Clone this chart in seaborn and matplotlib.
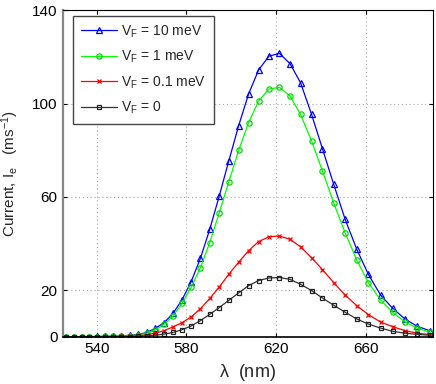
import matplotlib
matplotlib.use("Agg")
import matplotlib.pyplot as plt
import seaborn as sns
import pandas as pd

# wavelength samples (nm)
wavelength = [526.5, 529.9, 533.3, 536.8, 540.3, 543.9, 547.5, 551.1, 554.8, 558.6,
              562.4, 566.2, 570.1, 574.1, 578.1, 582.2, 586.3, 590.5, 594.7, 599.0,
              603.4, 607.8, 612.3, 616.9, 621.6, 626.3, 631.0, 635.9, 640.8, 645.8,
              650.9, 656.1, 661.3, 666.7, 672.1, 677.6, 683.2, 688.9]

vf_10meV = [0.0, 0.0, 0.05, 0.05, 0.1, 0.15, 0.2, 0.35, 0.6, 1.0,
            1.8, 3.6, 6.0, 10.0, 15.8, 23.6, 33.6, 46.1, 60.3, 75.5,
            90.6, 104.1, 114.5, 120.4, 121.6, 117.2, 109.0, 95.5, 80.6, 65.4,
            50.4, 37.5, 26.7, 17.9, 12.2, 7.6, 4.4, 2.5]

vf_1meV = [0.0, 0.0, 0.0, 0.05, 0.05, 0.1, 0.15, 0.25, 0.45, 0.8,
           1.5, 2.9, 5.3, 8.9, 14.3, 21.2, 29.6, 40.4, 53.1, 66.5,
           80.0, 91.8, 101.2, 106.3, 107.0, 103.3, 95.4, 84.1, 71.1, 57.4,
           44.6, 32.9, 23.2, 15.8, 10.5, 6.4, 3.6, 1.9]

vf_01meV = [0.0, 0.0, 0.0, 0.0, 0.0, 0.0, 0.05, 0.1, 0.2, 0.4,
            0.8, 1.5, 2.6, 4.2, 6.0, 8.5, 12.0, 16.4, 21.3, 26.8,
            32.0, 36.9, 40.8, 42.9, 43.2, 41.8, 38.6, 33.9, 28.8, 23.2,
            17.9, 13.3, 9.5, 6.3, 4.3, 2.6, 1.5, 0.9]

vf_0 = [0.0, 0.0, 0.0, 0.0, 0.0, 0.0, 0.0, 0.0, 0.05, 0.15,
        0.3, 0.6, 1.1, 1.8, 3.0, 4.6, 6.9, 9.6, 12.5, 15.6,
        18.8, 21.9, 24.1, 25.2, 25.4, 24.6, 22.5, 19.8, 16.6, 13.5,
        10.5, 7.6, 5.4, 3.7, 2.3, 1.5, 1.0, 0.6]

labels = [r'V$_\mathregular{F}$ = 10 meV', r'V$_\mathregular{F}$ = 1 meV',
          r'V$_\mathregular{F}$ = 0.1 meV', r'V$_\mathregular{F}$ = 0']
series = [vf_10meV, vf_1meV, vf_01meV, vf_0]

x_ticks = [540, 580, 620, 660]
y_ticks = [0, 20, 60, 100, 140]

sns.set_style("white")
plt.rcParams['font.family'] = ['Liberation Sans', 'DejaVu Sans']
plt.rcParams['mathtext.fontset'] = 'custom'
plt.rcParams['mathtext.rm'] = 'Liberation Sans'
plt.rcParams['mathtext.it'] = 'Liberation Sans:italic'

fig = plt.figure(figsize=(4.36, 3.84), dpi=100)
ax = fig.add_axes([0.1445, 0.1232, 0.848, 0.8495])

styles = [
    dict(color='#0000ff', marker='^', markersize=4.2, markerfacecolor='none', markeredgecolor='#0000ff'),
    dict(color='#00ff00', marker='o', markersize=3.8, markerfacecolor='none', markeredgecolor='#00dd00'),
    dict(color='#ff0000', marker='x', markersize=3.5, markeredgecolor='#ff0000'),
    dict(color='#333333', marker='s', markersize=3.2, markerfacecolor='none', markeredgecolor='#222222'),
]

for lab, vals, st in zip(labels, series, styles):
    df = pd.DataFrame({'wl': wavelength, 'I': vals})
    sns.lineplot(data=df, x='wl', y='I', ax=ax, label=lab, linewidth=0.9,
                 markeredgewidth=0.9, **st)

ax.set_xlim(525, 690)
ax.set_ylim(0, 140)
ax.set_xticks(x_ticks)
ax.set_yticks(y_ticks)
ax.tick_params(direction='in', length=3, labelsize=11, top=True, right=True,
               bottom=True, left=True, pad=4, colors='black')
ax.grid(True, linestyle=(0, (1, 2.5)), color='#aaaaaa', linewidth=0.8)
for s in ['top', 'right']:
    ax.spines[s].set_color('black')
    ax.spines[s].set_linewidth(0.8)
ax.spines['bottom'].set_color('black')
ax.spines['bottom'].set_linewidth(1.2)
ax.spines['left'].set_color('#888888')
ax.spines['left'].set_linewidth(1.6)

ax.set_xlabel(r'$\mathregular{\lambda}$  (nm)', fontsize=13, labelpad=4)
ax.set_ylabel(r'Current, I$_\mathregular{e}$   (ms$^{\mathregular{-1}}$)', fontsize=11, labelpad=8)

leg = ax.legend(loc='upper left', bbox_to_anchor=(0.027, 0.984), borderaxespad=0,
                fontsize=10, handlelength=2.6, labelspacing=0.65, fancybox=False,
                framealpha=1, edgecolor='#444444', borderpad=0.55, handletextpad=0.3)
leg.get_frame().set_linewidth(1.0)

fig.savefig('out.png', dpi=100)
